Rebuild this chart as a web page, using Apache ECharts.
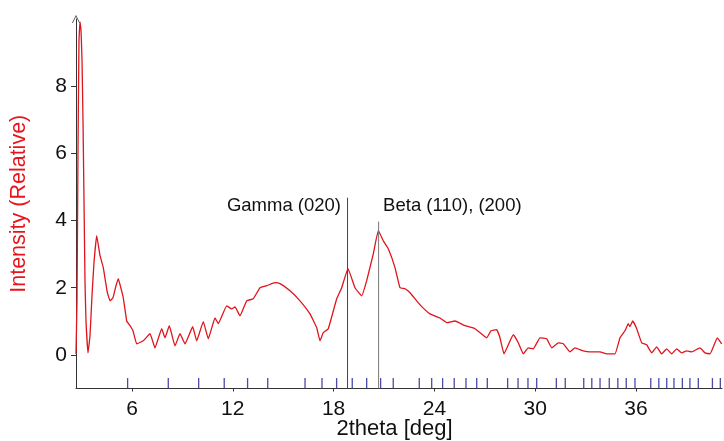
<!DOCTYPE html>
<html>
<head>
<meta charset="utf-8">
<script src="https://cdn.jsdelivr.net/npm/echarts@6/dist/echarts.min.js"></script>
<style>
  html, body { margin: 0; padding: 0; background: #ffffff; }
  #chart { width: 724px; height: 441px; }
</style>
</head>
<body>
<div id="chart"></div>
<script>
// Diffraction pattern: 2theta (deg) and relative intensity
const twoTheta = [
  2.667, 2.726, 2.786, 2.845, 2.905, 2.964, 3.024, 3.083, 3.143, 3.202,
  3.262, 3.381, 3.50, 3.619, 3.738, 3.899, 4.095, 4.292, 4.512, 4.690,
  4.869, 5.048, 5.185, 5.286, 5.482, 5.685, 5.881, 6.06, 6.280, 6.673,
  7.071, 7.369, 7.768, 7.964, 8.220, 8.560, 8.857, 9.155, 9.613, 9.851,
  10.244, 10.542, 10.940, 11.137, 11.637, 11.935, 12.131, 12.429, 12.827, 13.220,
  13.619, 14.018, 14.512, 14.810, 15.405, 16.0, 16.595, 16.994, 17.190, 17.387,
  17.685, 18.185, 18.482, 18.857, 19.274, 19.673, 19.970, 20.363, 20.661, 20.958,
  21.256, 21.655, 21.952, 22.25, 22.548, 22.946, 23.262, 23.738, 24.333, 24.750,
  25.226, 25.821, 26.417, 27.113, 27.369, 27.708, 27.905, 28.143, 28.696, 28.994,
  29.292, 29.589, 29.887, 30.286, 30.685, 30.982, 31.375, 31.673, 32.071, 32.369,
  32.863, 33.262, 33.857, 34.256, 34.750, 35.048, 35.345, 35.542, 35.643, 35.804,
  36.042, 36.339, 36.637, 36.935, 37.232, 37.530, 37.827, 38.125, 38.423, 38.720,
  39.018, 39.315, 39.810, 40.107, 40.405, 40.839, 41.10
];
const intensity = [
  0.03, 1.61, 6.09, 9.37, 9.91, 9.67, 8.78, 6.99, 4.60, 2.21,
  1.01, 0.06, 0.57, 1.76, 2.75, 3.55, 2.96, 2.60, 1.91, 1.61,
  1.70, 2.06, 2.27, 2.09, 1.70, 1.01, 0.87, 0.72, 0.33, 0.42,
  0.63, 0.21, 0.78, 0.51, 0.87, 0.27, 0.63, 0.33, 0.84, 0.42,
  0.99, 0.48, 1.10, 0.93, 1.46, 1.37, 1.43, 1.16, 1.61, 1.67,
  2.00, 2.06, 2.15, 2.12, 1.91, 1.61, 1.22, 0.81, 0.42, 0.66,
  0.78, 1.67, 2.00, 2.57, 2.00, 1.76, 2.21, 3.01, 3.70, 3.40,
  3.16, 2.60, 2.00, 1.97, 1.85, 1.61, 1.43, 1.22, 1.10, 0.96,
  1.01, 0.87, 0.78, 0.51, 0.72, 0.75, 0.51, 0.03, 0.60, 0.36,
  0.03, 0.21, 0.18, 0.51, 0.48, 0.21, 0.36, 0.33, 0.09, 0.21,
  0.12, 0.09, 0.09, 0.03, 0.03, 0.51, 0.72, 0.93, 0.84, 1.01,
  0.78, 0.36, 0.30, 0.06, 0.24, 0.03, 0.18, 0.03, 0.18, 0.06,
  0.12, 0.09, 0.21, 0.06, 0.03, 0.51, 0.33
];

// Reference reflection positions (deg)
const reflections = [
  5.74, 8.16, 9.97, 11.49, 12.88, 14.08, 16.30, 17.31, 18.18, 19.11,
  19.97, 20.80, 21.55, 23.10, 23.84, 24.49, 25.18, 25.88, 26.52, 27.15,
  28.36, 28.98, 29.57, 30.09, 31.26, 31.79, 32.89, 33.37, 33.86, 34.41,
  34.92, 35.42, 35.94, 36.88, 37.36, 37.83, 38.26, 38.76, 39.21, 39.71,
  40.55, 41.02
];
const reflectionTop = -0.69;
const reflectionBottom = -0.99;

// Phase markers
const phaseNames = ['Gamma (020)', 'Beta (110), (200)'];
const phasePositions = [18.83, 20.68];
const phaseTops = [4.68, 3.97];
const phaseLabelLevel = 4.45;

const xTicks = [6, 12, 18, 24, 30, 36];
const yTicks = [0, 2, 4, 6, 8];
const xRange = [2.667, 41.12];
const yRange = [-1, 10];

const FONT = '"Liberation Sans", Arial, sans-serif';
const AXIS_COLOR = '#333333';

const curve = twoTheta.map((t, i) => [t, intensity[i]]);
const markerData = phasePositions.map((p, i) => [p, phaseTops[i], i]);

const chart = echarts.init(document.getElementById('chart'), null, { renderer: 'canvas' });

chart.setOption({
  animation: false,
  backgroundColor: '#ffffff',
  grid: { left: 76, right: 2, top: 19, bottom: 52.5, containLabel: false, outerBoundsMode: 'none' },
  xAxis: {
    type: 'value',
    min: xRange[0],
    max: xRange[1],
    name: '2theta [deg]',
    nameLocation: 'middle',
    nameGap: 29,
    nameMoveOverlap: false,
    nameTextStyle: { fontFamily: FONT, fontSize: 22, color: '#111111', padding: [0, 9, 0, 0] },
    axisLine: { show: true, onZero: false, lineStyle: { color: AXIS_COLOR, width: 1 } },
    axisTick: { show: true, inside: false, length: 3, customValues: xTicks, lineStyle: { color: AXIS_COLOR } },
    axisLabel: { customValues: xTicks, fontFamily: FONT, fontSize: 21, color: '#111111', margin: 10 },
    splitLine: { show: false }
  },
  yAxis: {
    type: 'value',
    min: yRange[0],
    max: yRange[1],
    name: 'Intensity (Relative)',
    nameLocation: 'middle',
    nameGap: 46,
    nameMoveOverlap: false,
    nameTextStyle: { fontFamily: FONT, fontSize: 21.5, color: '#e8141c' },
    axisLine: {
      show: true, onZero: false,
      symbol: ['none', 'path://M0,10 L5,0 L10,10 L9,10 L5,2 L1,10 Z'],
      symbolSize: [8, 8],
      symbolOffset: [0, 0],
      lineStyle: { color: AXIS_COLOR, width: 1 }
    },
    axisTick: { show: true, inside: false, length: 5, customValues: yTicks, lineStyle: { color: AXIS_COLOR } },
    axisLabel: { customValues: yTicks, fontFamily: FONT, fontSize: 21, color: '#111111', margin: 9 },
    splitLine: { show: false }
  },
  series: [
    {
      name: 'pattern',
      type: 'line',
      data: curve,
      showSymbol: false,
      smooth: 0.1,
      lineStyle: { color: '#e0141c', width: 1.3 },
      z: 3
    },
    {
      name: 'reflections',
      type: 'custom',
      data: reflections.map(r => [r]),
      renderItem: (params, api) => {
        const a = api.coord([api.value(0), reflectionTop]);
        const b = api.coord([api.value(0), reflectionBottom]);
        return {
          type: 'line',
          shape: { x1: a[0], y1: a[1], x2: b[0], y2: b[1] },
          style: { stroke: '#4a4aa8', lineWidth: 1.3 }
        };
      },
      z: 2
    },
    {
      name: 'phases',
      type: 'custom',
      data: markerData,
      renderItem: (params, api) => {
        const x = api.value(0);
        const idx = api.value(2);
        const top = api.coord([x, api.value(1)]);
        const bottom = api.coord([x, yRange[0]]);
        const lab = api.coord([x, phaseLabelLevel]);
        const left = idx === 0;
        return {
          type: 'group',
          children: [
            {
              type: 'line',
              shape: { x1: top[0], y1: top[1], x2: bottom[0], y2: bottom[1] },
              style: { stroke: left ? '#444444' : '#777777', lineWidth: 1 }
            },
            {
              type: 'text',
              style: {
                text: phaseNames[idx],
                x: left ? lab[0] - 6.5 : lab[0] + 4.5,
                y: lab[1],
                align: left ? 'right' : 'left',
                verticalAlign: 'middle',
                font: '18.5px ' + FONT,
                fill: '#111111'
              }
            }
          ]
        };
      },
      z: 4
    }
  ]
});
</script>
</body>
</html>
